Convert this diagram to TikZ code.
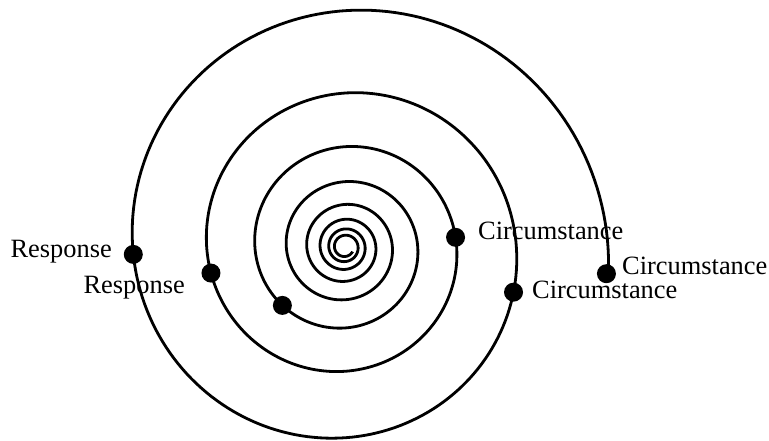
\documentclass[tikz,border=0pt]{standalone}
\usepackage{fontspec}
\setmainfont{Liberation Serif}
\begin{document}
\begin{tikzpicture}[x=1pt,y=-1pt,
  declare function={sr(\t)=263*exp(-0.0011973*\t); sx(\t)=345+sr(\t)*cos(\t); sy(\t)=247-sr(\t)*sin(\t);},
  spiral/.style={line width=2.8pt, black, line join=round},
  dot/.style={circle, fill=black, inner sep=0pt, minimum size=19pt},
  lbl/.style={inner sep=0pt, font=\fontsize{26.4}{30}\selectfont}]
\useasboundingbox (0,0) rectangle (769,440);
\draw[spiral] plot[domain=-6:2849, samples=1500, variable=\t] ({sx(\t)}, {sy(\t)});
% dots
\node[dot] (d1) at ({sx(-6)-2}, {sy(-6)-1}) {};
\node[dot] (d2) at ({sx(345)}, {sy(345)}) {};
\node[dot] (d3) at ({sx(725)}, {sy(725)}) {};
\node[dot] (d4) at ({sx(182)}, {sy(182)}) {};
\node[dot] (d5) at ({sx(551)}, {sy(551)}) {};
\node[dot] (d6) at ({sx(943)}, {sy(943)}) {};
% labels
\node[lbl, anchor=base east] (r1) at (112,257) {Response};
\node[lbl, anchor=base east] (r2) at (185,293) {Response};
\node[lbl, anchor=base west] (c1) at (478,239) {Circumstance};
\node[lbl, anchor=base west] (c2) at (622,274) {Circumstance};
\node[lbl, anchor=base west] (c3) at (532,298) {Circumstance};
\end{tikzpicture}
\end{document}
